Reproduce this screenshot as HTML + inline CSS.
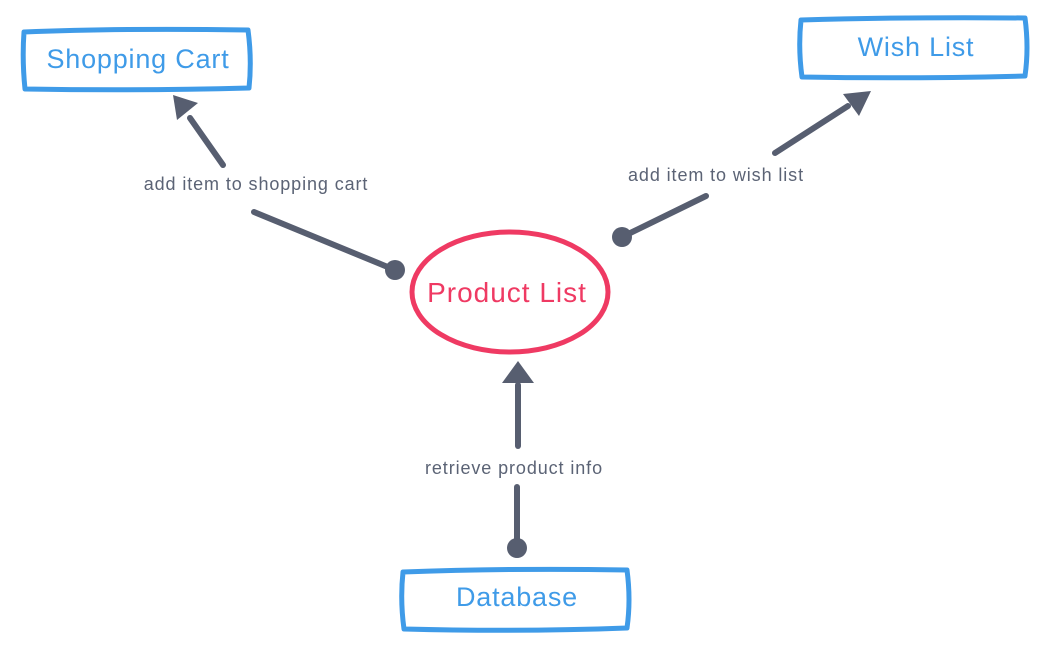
<!DOCTYPE html>
<html><head><meta charset="utf-8"><style>
html,body{margin:0;padding:0;background:#fff;}
svg{display:block;}
text{font-family:"Liberation Sans",sans-serif;}
</style></head><body>
<svg width="1049" height="646" viewBox="0 0 1049 646">
<g fill="none" stroke="#3f9be8" stroke-width="5" stroke-linejoin="round">
<path d="M24,32 Q120,28 248,30 Q252,60 249,88 Q140,91 25,89 Q22,60 24,32 Z"/>
<path d="M801,20 Q900,17 1025,18 Q1029,48 1025,76 Q910,79 802,77 Q798,48 801,20 Z"/>
<path d="M403,572 Q510,568 627,570 Q631,600 627,628 Q520,632 404,629 Q400,600 403,572 Z"/>
</g>
<ellipse cx="510" cy="292" rx="98" ry="60" fill="none" stroke="#ef3a63" stroke-width="5"/>
<g font-size="27" fill="#3f9be8" text-anchor="middle" letter-spacing="0.8">
<text x="138" y="68">Shopping Cart</text>
<text x="916" y="56">Wish List</text>
<text x="517" y="606">Database</text>
</g>
<text x="507" y="302" font-size="28" fill="#ef3a63" text-anchor="middle" letter-spacing="1">Product List</text>
<g stroke="#575e70" stroke-width="6" stroke-linecap="round" fill="#575e70">
<line x1="254" y1="212" x2="395" y2="270"/>
<line x1="223" y1="165" x2="190" y2="118"/>
<line x1="622" y1="237" x2="706" y2="196"/>
<line x1="775" y1="153" x2="848" y2="106"/>
<line x1="517" y1="548" x2="517" y2="487"/>
<line x1="518" y1="446" x2="518" y2="385"/>
</g>
<g fill="#575e70">
<circle cx="395" cy="270" r="10"/>
<circle cx="622" cy="237" r="10"/>
<circle cx="517" cy="548" r="10"/>
<polygon points="173,95 198,103 177,120"/>
<polygon points="871,91 859,116 843,94"/>
<polygon points="518,361 534,383 502,383"/>
</g>
<g font-size="18" fill="#5b6375" text-anchor="middle" letter-spacing="0.9">
<text x="256" y="190">add item to shopping cart</text>
<text x="716" y="181">add item to wish list</text>
<text x="514" y="474">retrieve product info</text>
</g>
</svg>
</body></html>
